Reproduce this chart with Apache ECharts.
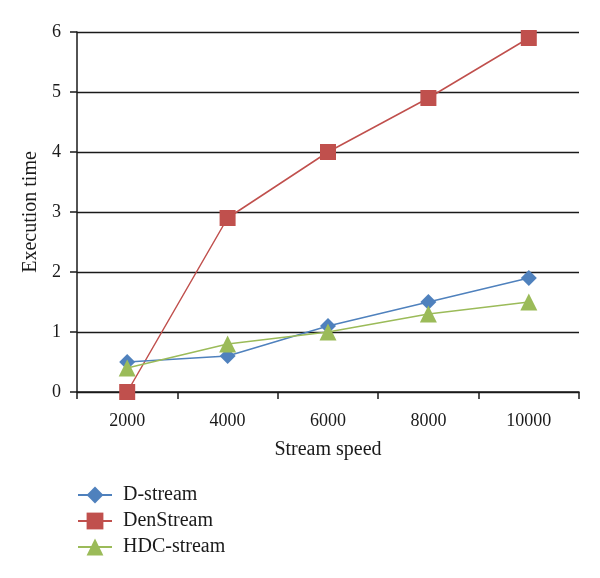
<!DOCTYPE html>
<html><head><meta charset="utf-8">
<script src="https://cdn.jsdelivr.net/npm/echarts@6/dist/echarts.min.js"></script>
<style>html,body{margin:0;padding:0;background:#fff}#c{width:600px;height:578px}</style>
</head><body><div id="c"></div>
<script>
const categories = ['2000','4000','6000','8000','10000'];
const dStream = [0.5, 0.6, 1.1, 1.5, 1.9];
const denStream = [0, 2.9, 4.0, 4.9, 5.9];
const hdcStream = [0.4, 0.8, 1.0, 1.3, 1.5];
const seriesNames = ['D-stream','DenStream','HDC-stream'];

const font = 'Liberation Serif';
const chart = echarts.init(document.getElementById('c'));
chart.setOption({
  animation: false,
  backgroundColor: '#fff',
  grid: {left: 77, right: 21, top: 32, bottom: 186},
  xAxis: {
    type: 'category', data: categories, boundaryGap: true,
    name: 'Stream speed', nameLocation: 'middle', nameGap: 48,
    nameTextStyle: {fontFamily: font, fontSize: 20, color: '#1a1a1a'},
    axisLine: {lineStyle: {color: '#1a1a1a', width: 1.5}},
    axisTick: {show: true, length: 7, lineStyle: {color: '#1a1a1a', width: 1.5}},
    axisLabel: {fontFamily: font, fontSize: 18, color: '#1a1a1a', margin: 20}
  },
  yAxis: {
    type: 'value', min: 0, max: 6, interval: 1,
    name: 'Execution time', nameLocation: 'middle', nameGap: 35,
    nameTextStyle: {fontFamily: font, fontSize: 20, color: '#1a1a1a'},
    axisLine: {show: true, lineStyle: {color: '#1a1a1a', width: 1.5}},
    axisTick: {show: true, length: 7, lineStyle: {color: '#1a1a1a', width: 1.5}},
    axisLabel: {fontFamily: font, fontSize: 18, color: '#1a1a1a', margin: 16},
    splitLine: {lineStyle: {color: '#1a1a1a', width: 1.3}}
  },
  legend: {
    orient: 'vertical', left: 77, top: 485, padding: 0, itemGap: 6,
    itemWidth: 34, itemHeight: 21,
    textStyle: {fontFamily: font, fontSize: 20, color: '#1a1a1a', padding: [0, 0, 0, 6]},
    data: seriesNames
  },
  series: [
    {name: seriesNames[0], type: 'line', data: dStream, symbol: 'diamond', symbolSize: 16,
     itemStyle: {color: '#4F81BD'}, lineStyle: {color: '#4F81BD', width: 1.5}, z: 3},
    {name: seriesNames[1], type: 'line', data: denStream, symbol: 'rect', symbolSize: 16,
     itemStyle: {color: '#C0504D'}, lineStyle: {color: '#C0504D', width: 1.5}, z: 2},
    {name: seriesNames[2], type: 'line', data: hdcStream, symbol: 'triangle', symbolSize: 17,
     itemStyle: {color: '#9BBB59'}, lineStyle: {color: '#9BBB59', width: 1.5}, z: 4}
  ]
});
</script></body></html>
